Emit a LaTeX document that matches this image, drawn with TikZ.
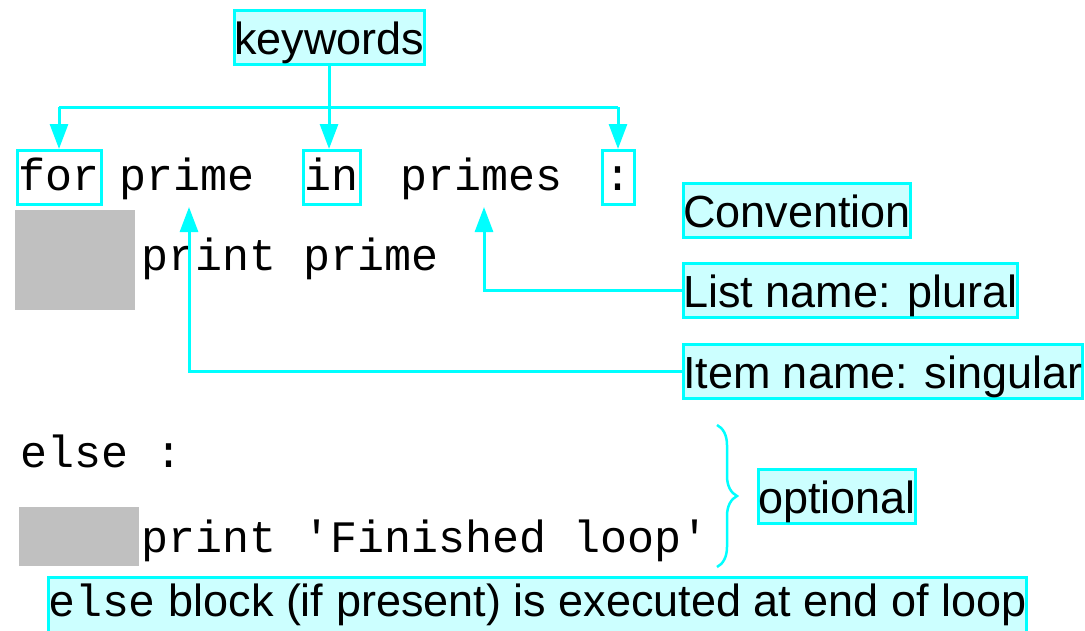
\documentclass[tikz,border=0pt]{standalone}
\usepackage{fontspec}
\setmainfont{Liberation Sans}
\setmonofont{Liberation Mono}
\usepackage{tikz}
\usetikzlibrary{calc,arrows.meta,decorations.pathreplacing}
\definecolor{hl}{HTML}{00FFFF}
\definecolor{hlfill}{HTML}{CCFFFF}
\definecolor{indentgray}{HTML}{C0C0C0}
\def\codefont{\fontsize{45}{50}\selectfont\ttfamily}
\def\notefont{\fontsize{45}{50}\selectfont\rmfamily}
\tikzset{
  code/.style={anchor=base west, inner sep=0pt, font=\codefont},
  kwbox/.style={code, draw=hl, line width=3pt, inner xsep=1.5pt, inner ysep=2pt,
                text height=37.5pt, text depth=12.5pt},
  note/.style={anchor=base west, draw=hl, fill=hlfill, line width=3pt, font=\notefont,
               inner xsep=0pt, inner ysep=2pt, text height=42pt, text depth=8pt},
  link/.style={draw=hl, line width=3pt},
  arr/.style={link, -{Triangle[width=18pt,length=25pt]}},
  brace/.style={draw=hl, line width=2.5pt, decorate, decoration={brace, amplitude=20pt}}
}

\begin{document}
\begin{tikzpicture}[x=1pt, y=-1pt]
			%%%%% START %%%%%
			\useasboundingbox (0,0) rectangle (1085,630);
			
			% indent blocks
			\fill[indentgray] (15,210) rectangle (135,310);
			\fill[indentgray] (19,507) rectangle (139,566);
			
			% for line
			\node[kwbox] (for) at (15.5,190) {for};
			\node[code] (prime) at (119,190) {prime};
			\node[kwbox] (in) at (301.5,190) {in};
			\node[code] (primes) at (400,190) {primes};
			\node[kwbox, inner xsep=2.5pt] (colon) at (600.5,190) {:};
			\node[code] (body) at (141,270) {print prime};
			
			% else part
			\node[code] (else) at (20,467) {else :};
			\node[code] (done) at (141,552) {print 'Finished loop'};
			
			% labels
			\node[note] (kw) at (232.5,54) {keywords};
			\node[note] (conv) at (681.5,227) {Convention};
			\node[note] (list) at (681.5,307) {List name: plural};
			\node[note] (item) at (681.5,388) {Item name: singular};
			\node[note] (opt) at (756.5,513) {optional};
			\node[note, text height=36.5pt, text depth=14pt] (endnote) at (46.5,616)
			  {{\codefont else} block (if present) is executed at end of loop};
			
			% keyword arrows
			\coordinate (bar) at (328,107);
			\draw[link] (kw.south) -- (kw.south |- bar);
			\draw[link] (for.north |- bar) -- (colon.north |- bar);
			\draw[arr] (for.north |- bar) -- (for.north);
			\draw[arr] (kw.south |- bar) -- (kw.south |- in.north);
			\draw[arr] (colon.north |- bar) -- (colon.north);
			
			% naming arrows
			\coordinate (listtip) at (484,207);
			\coordinate (itemtip) at (189,207);
			\draw[arr] (list.west) -| (listtip);
			\draw[arr] (item.west) -| (itemtip);
			
			% optional brace
			\draw[brace] (717,425) -- (717,567);
			%%%%% END %%%%%
\end{tikzpicture}
\end{document}
